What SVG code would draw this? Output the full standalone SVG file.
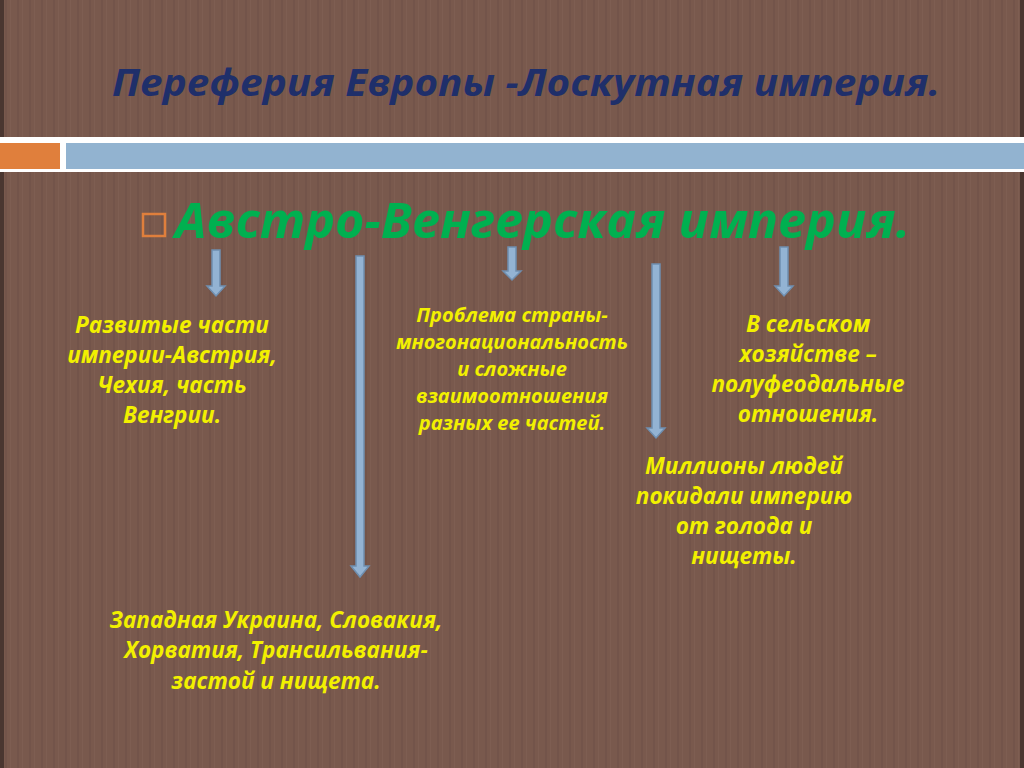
<svg xmlns="http://www.w3.org/2000/svg" width="1024" height="768" viewBox="0 0 1024 768">
<defs>
<pattern id="stripes" width="12" height="768" patternUnits="userSpaceOnUse">
<rect width="12" height="768" fill="#79594d"/>
<rect x="5" width="2" height="768" fill="#73544a"/>
<rect x="10" width="1" height="768" fill="#7e5e52"/>
</pattern>
<style>
.y{font-family:"Open Sans","Liberation Sans",sans-serif;font-weight:bold;font-style:italic;fill:#f2f000;text-anchor:middle}
.arr{fill:#93b3d3;stroke:#6f8fb0;stroke-width:1.5}
</style>
</defs>
<rect width="1024" height="768" fill="url(#stripes)"/>
<rect x="0" y="0" width="4" height="768" fill="#4a3630"/>
<rect x="1020" y="0" width="4" height="768" fill="#4a3630"/>
<text x="112" y="96" textLength="828" lengthAdjust="spacingAndGlyphs" font-family="'Open Sans','Liberation Sans',sans-serif" font-weight="bold" font-style="italic" font-size="38" fill="#1f2f6a">Переферия Европы -Лоскутная империя.</text>
<rect x="0" y="137" width="1024" height="35" fill="#ffffff"/>
<rect x="0" y="143" width="60" height="26" fill="#e07f3c"/>
<rect x="66" y="143" width="958" height="26" fill="#92b3d0"/>
<g id="title">
<rect x="143" y="214" width="22" height="22" fill="none" stroke="#e07f3c" stroke-width="2.5"/>
<text x="175" y="238" textLength="735" lengthAdjust="spacingAndGlyphs" font-family="'Open Sans','Liberation Sans',sans-serif" font-weight="bold" font-style="italic" font-size="48" fill="#00b050">Австро-Венгерская империя.</text>
</g>
<g id="connectors">
<path class="arr" d="M212,250 h8 v36 h5 l-9,10 l-9,-10 h5 z"/>
<path class="arr" d="M356,256 h8 v310 h5 l-9,11 l-9,-11 h5 z"/>
<path class="arr" d="M508,247 h8 v24 h5 l-9,9 l-9,-9 h5 z"/>
<path class="arr" d="M652,264 h8 v164 h5 l-9,10 l-9,-10 h5 z"/>
<path class="arr" d="M780,247 h8 v39 h5 l-9,10 l-9,-10 h5 z"/>
</g>
<g id="n1"><text class="y" font-size="22.5"><tspan x="172" y="333">Развитые части</tspan><tspan x="172" y="363">империи-Австрия,</tspan><tspan x="172" y="393">Чехия, часть</tspan><tspan x="172" y="423">Венгрии.</tspan></text></g>
<g id="n2"><text class="y" font-size="20"><tspan x="512" y="322">Проблема страны-</tspan><tspan x="512" y="349">многонациональность</tspan><tspan x="512" y="376">и сложные</tspan><tspan x="512" y="403">взаимоотношения</tspan><tspan x="512" y="430">разных ее частей.</tspan></text></g>
<g id="n3"><text class="y" font-size="22.5"><tspan x="808" y="332">В сельском</tspan><tspan x="808" y="362">хозяйстве –</tspan><tspan x="808" y="392">полуфеодальные</tspan><tspan x="808" y="422">отношения.</tspan></text></g>
<g id="n4"><text class="y" font-size="22.5"><tspan x="744" y="474">Миллионы людей</tspan><tspan x="744" y="504">покидали империю</tspan><tspan x="744" y="534">от голода и</tspan><tspan x="744" y="564">нищеты.</tspan></text></g>
<g id="n5"><text class="y" font-size="22.5"><tspan x="276" y="628">Западная Украина, Словакия,</tspan><tspan x="276" y="658">Хорватия, Трансильвания-</tspan><tspan x="276" y="689">застой и нищета.</tspan></text></g>
</svg>
